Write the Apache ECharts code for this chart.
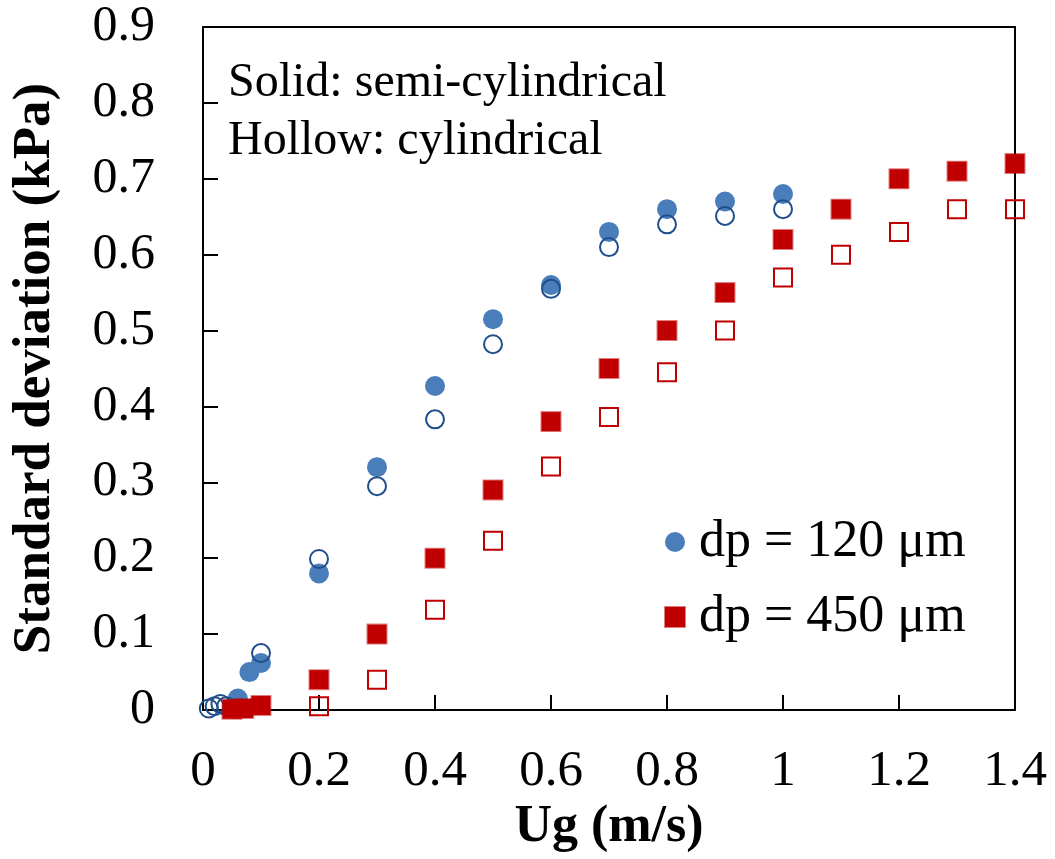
<!DOCTYPE html>
<html>
<head>
<meta charset="utf-8">
<script src="https://cdn.jsdelivr.net/npm/echarts@6/dist/echarts.min.js"></script>
<style>html,body{margin:0;padding:0;background:#fff}#c{width:1055px;height:859px}</style>
</head>
<body>
<div id="c"></div>
<script>
// Data: dp = 120 um, semi-cylindrical (solid)
const ug120Semi = [0.06, 0.08, 0.1, 0.2, 0.3, 0.4, 0.5, 0.6, 0.7, 0.8, 0.9, 1.0];
const sd120Semi = [0.015, 0.05, 0.062, 0.18, 0.32, 0.427, 0.515, 0.56, 0.63, 0.66, 0.67, 0.68];
// dp = 120 um, cylindrical (hollow)
const ug120Cyl = [0.01, 0.02, 0.03, 0.04, 0.1, 0.2, 0.3, 0.4, 0.5, 0.6, 0.7, 0.8, 0.9, 1.0];
const sd120Cyl = [0.002, 0.005, 0.008, 0.005, 0.075, 0.199, 0.295, 0.383, 0.482, 0.555, 0.61, 0.64, 0.651, 0.66];
// dp = 450 um, semi-cylindrical (solid)
const ug450Semi = [0.05, 0.07, 0.1, 0.2, 0.3, 0.4, 0.5, 0.6, 0.7, 0.8, 0.9, 1.0, 1.1, 1.2, 1.3, 1.4];
const sd450Semi = [0.001, 0.002, 0.006, 0.04, 0.1, 0.2, 0.29, 0.38, 0.45, 0.5, 0.55, 0.62, 0.66, 0.7, 0.71, 0.72];
// dp = 450 um, cylindrical (hollow)
const ug450Cyl = [0.2, 0.3, 0.4, 0.5, 0.6, 0.7, 0.8, 0.9, 1.0, 1.1, 1.2, 1.3, 1.4];
const sd450Cyl = [0.005, 0.04, 0.132, 0.223, 0.321, 0.386, 0.445, 0.5, 0.57, 0.6, 0.63, 0.66, 0.66];

const legendNames = ['dp = 120 μm', 'dp = 450 μm'];
const noteLines = ['Solid: semi-cylindrical', 'Hollow: cylindrical'];
const xTitle = 'Ug (m/s)';
const yTitle = 'Standard deviation (kPa)';

const zip = (a, b) => a.map((v, i) => [v, b[i]]);
const FONT = '"Liberation Serif", "Times New Roman", serif';
const BLUE = '#4A7EBB';
const DBLUE = '#1F4E8C';
const RED = '#C00000';

const chart = echarts.init(document.getElementById('c'), null, {renderer: 'canvas'});
const axisCommon = {
  axisLine: {show: true, onZero: false, lineStyle: {color: '#000', width: 2}},
  splitLine: {show: false}
};
chart.setOption({
  animation: false,
  backgroundColor: '#fff',
  grid: {left: 203, right: 40, top: 27, bottom: 149, containLabel: false},
  xAxis: [{
    type: 'value', min: 0, max: 1.4, interval: 0.2, position: 'bottom',
    ...axisCommon,
    axisTick: {show: true, inside: true, length: 15, lineStyle: {color: '#000', width: 2}},
    axisLabel: {fontFamily: FONT, fontSize: 51, color: '#000', margin: 36},
    name: xTitle, nameLocation: 'middle', nameGap: 92,
    nameTextStyle: {fontFamily: FONT, fontSize: 52, fontWeight: 'bold', color: '#000'}
  }, {
    type: 'value', min: 0, max: 1.4, position: 'top',
    ...axisCommon, axisTick: {show: false}, axisLabel: {show: false}
  }],
  yAxis: [{
    type: 'value', min: 0, max: 0.9, interval: 0.1, position: 'left',
    ...axisCommon,
    axisTick: {show: true, inside: true, length: 15, lineStyle: {color: '#000', width: 2}},
    axisLabel: {fontFamily: FONT, fontSize: 50, color: '#000', margin: 48},
    name: yTitle, nameLocation: 'middle', nameGap: 141, nameRotate: 90,
    nameTextStyle: {fontFamily: FONT, fontSize: 53, fontWeight: 'bold', color: '#000'}
  }, {
    type: 'value', min: 0, max: 0.9, position: 'right',
    ...axisCommon, axisTick: {show: false}, axisLabel: {show: false}
  }],
  legend: {
    data: legendNames, orient: 'vertical', left: 659, top: 511, itemGap: 23,
    itemWidth: 20, itemHeight: 20,
    textStyle: {fontFamily: FONT, fontSize: 52, color: '#000', padding: [0, 0, 0, 9]}
  },
  graphic: [{
    type: 'text', left: 228, top: 54,
    style: {text: noteLines.join('\n'), font: '48px ' + FONT, fill: '#000', lineHeight: 58}
  }],
  series: [
    {name: legendNames[0], type: 'scatter', symbol: 'circle', symbolSize: 20, clip: false,
     itemStyle: {color: BLUE, opacity: 1}, data: zip(ug120Semi, sd120Semi)},
    {name: 'cyl120', type: 'scatter', symbol: 'circle', symbolSize: 18, clip: false,
     itemStyle: {color: 'rgba(0,0,0,0)', borderColor: DBLUE, borderWidth: 2, opacity: 1}, data: zip(ug120Cyl, sd120Cyl)},
    {name: legendNames[1], type: 'scatter', symbol: 'rect', symbolSize: 19, clip: false,
     itemStyle: {color: RED, borderColor: 'rgba(192,0,0,0.5)', borderWidth: 2, opacity: 1}, data: zip(ug450Semi, sd450Semi)},
    {name: 'cyl450', type: 'scatter', symbol: 'rect', symbolSize: 18, clip: false,
     itemStyle: {color: 'rgba(0,0,0,0)', borderColor: RED, borderWidth: 2, opacity: 1}, data: zip(ug450Cyl, sd450Cyl)}
  ]
});
</script>
</body>
</html>
